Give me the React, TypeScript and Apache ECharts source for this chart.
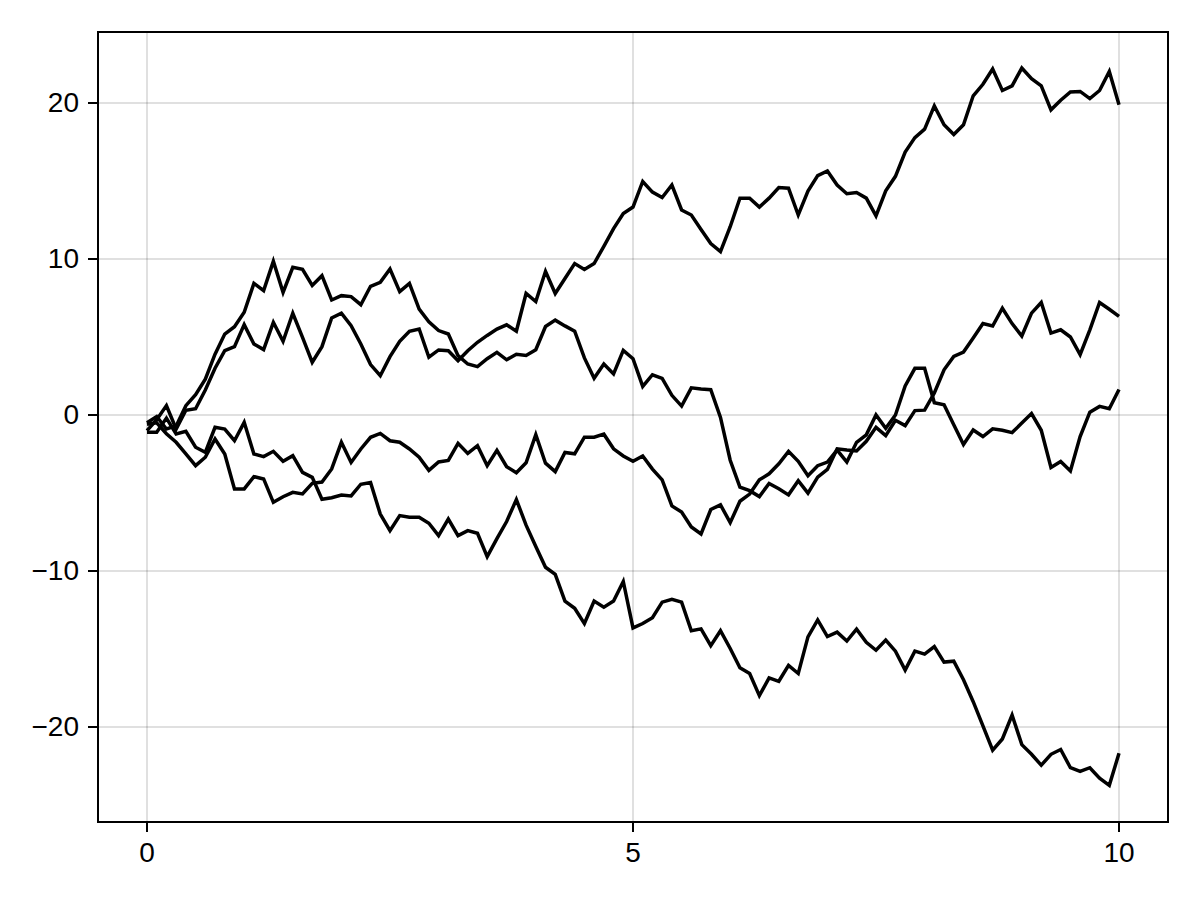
import React, { useEffect, useRef } from "react";
import * as echarts from "echarts";

// Sampling positions: 101 samples from 0 to 10 (step 0.1)
const sampleCount = 101;
const xs: number[] = Array.from({ length: sampleCount }, (_, i) => i / 10);

const xTicks = [0, 5, 10];
const yTicks = [-20, -10, 0, 10, 20];

const walkA = [
  -0.5, -0.1, -0.9, -0.7, 0.6, 1.3, 2.3, 3.9, 5.19, 5.66,
  6.58, 8.44, 7.97, 9.85, 7.86, 9.47, 9.34, 8.3, 8.93, 7.37,
  7.65, 7.59, 7.07, 8.25, 8.5, 9.36, 7.91, 8.44, 6.79, 5.98,
  5.41, 5.19, 3.8, 3.27, 3.1, 3.61, 4.02, 3.54, 3.89, 3.82,
  4.18, 5.67, 6.08, 5.71, 5.37, 3.66, 2.35, 3.27, 2.63, 4.14,
  3.61, 1.83, 2.58, 2.35, 1.26, 0.57, 1.74, 1.67, 1.62, -0.16,
  -2.9, -4.62, -4.85, -5.23, -4.39, -4.73, -5.12, -4.21, -5.01, -3.98,
  -3.49, -2.17, -2.25, -2.31, -1.69, -0.79, -1.32, -0.34, -0.68, 0.28,
  0.31, 1.41, 2.9, 3.75, 4.03, 4.93, 5.86, 5.7, 6.84, 5.86,
  5.06, 6.53, 7.21, 5.25, 5.46, 5.0, 3.87, 5.46, 7.21, 6.78,
  6.32,
];

const walkB = [
  -1.0, -0.3, 0.6, -0.9, 0.3, 0.4, 1.6, 3.0, 4.12, 4.38,
  5.79, 4.55, 4.19, 5.94, 4.72, 6.52, 4.98, 3.38, 4.38, 6.22,
  6.52, 5.73, 4.55, 3.23, 2.52, 3.74, 4.72, 5.36, 5.51, 3.7,
  4.17, 4.12, 3.48, 4.12, 4.66, 5.1, 5.51, 5.78, 5.37, 7.79,
  7.27, 9.21, 7.79, 8.75, 9.71, 9.33, 9.71, 10.81, 11.95, 12.91,
  13.33, 14.97, 14.29, 13.94, 14.74, 13.14, 12.82, 11.89, 10.99, 10.47,
  12.07, 13.9, 13.9, 13.33, 13.9, 14.58, 14.54, 12.82, 14.35, 15.34,
  15.64, 14.74, 14.18, 14.26, 13.9, 12.77, 14.37, 15.3, 16.85, 17.78,
  18.32, 19.81, 18.6, 17.98, 18.6, 20.46, 21.2, 22.18, 20.8, 21.1,
  22.24, 21.56, 21.1, 19.56, 20.18, 20.71, 20.74, 20.28, 20.8, 22.02,
  19.88,
];

const walkC = [
  -0.6, -0.5, -1.2, -1.75, -2.5, -3.25, -2.71, -1.54, -2.5, -4.74,
  -4.74, -3.95, -4.1, -5.6, -5.24, -4.96, -5.06, -4.38, -4.3, -3.46,
  -1.75, -3.04, -2.18, -1.43, -1.18, -1.65, -1.75, -2.18, -2.71, -3.55,
  -3.01, -2.91, -1.82, -2.46, -1.97, -3.25, -2.26, -3.31, -3.7, -3.06,
  -1.26, -3.09, -3.63, -2.4, -2.49, -1.42, -1.42, -1.23, -2.17, -2.63,
  -2.97, -2.63, -3.47, -4.16, -5.83, -6.22, -7.18, -7.63, -6.06, -5.76,
  -6.9, -5.53, -5.07, -4.16, -3.77, -3.13, -2.33, -2.97, -3.89, -3.25,
  -3.02, -2.25, -3.02, -1.75, -1.27, 0.0, -0.85, 0.0, 1.86, 2.99,
  2.99, 0.79, 0.65, -0.62, -1.89, -0.96, -1.38, -0.89, -0.98, -1.13,
  -0.52, 0.09, -0.98, -3.37, -2.98, -3.59, -1.38, 0.18, 0.55, 0.4,
  1.63,
];

const walkD = [
  -1.1, -1.1, -0.2, -1.22, -1.05, -2.07, -2.39, -0.79, -0.9, -1.65,
  -0.47, -2.5, -2.67, -2.33, -2.97, -2.61, -3.68, -4.0, -5.4, -5.3,
  -5.13, -5.19, -4.44, -4.33, -6.35, -7.41, -6.45, -6.56, -6.56, -6.94,
  -7.73, -6.67, -7.73, -7.41, -7.58, -9.08, -7.93, -6.83, -5.42, -7.06,
  -8.43, -9.76, -10.22, -11.93, -12.39, -13.37, -11.93, -12.32, -11.93, -10.67,
  -13.65, -13.37, -13.0, -12.0, -11.82, -12.0, -13.83, -13.71, -14.79, -13.83,
  -14.97, -16.21, -16.57, -17.99, -16.85, -17.07, -16.05, -16.57, -14.22, -13.14,
  -14.2, -13.92, -14.49, -13.73, -14.57, -15.08, -14.43, -15.14, -16.35, -15.14,
  -15.33, -14.85, -15.84, -15.78, -16.97, -18.38, -19.93, -21.48, -20.77, -19.23,
  -21.13, -21.75, -22.45, -21.75, -21.44, -22.61, -22.85, -22.61, -23.28, -23.74,
  -21.69,
];

const walks = [walkA, walkB, walkC, walkD];

const fmt = (v: number) => (v < 0 ? "\u2212" + Math.abs(v) : String(v));

const X_MIN = -0.504;
const X_MAX = 10.504;
const Y_MIN = -26.09;
const Y_MAX = 24.55;

export default function App() {
  const ref = useRef<HTMLDivElement>(null);

  useEffect(() => {
    if (!ref.current) return;
    const chart = echarts.init(ref.current, undefined, { renderer: "svg" });
    const gridColor = "rgba(0,0,0,0.12)";
    const font = "'Liberation Sans', Arial, Helvetica, sans-serif";

    const markLineBase = {
      silent: true,
      symbol: ["none", "none"],
      animation: false,
      label: { show: false },
      emphasis: { disabled: true },
    };

    const gridSeries: any = {
      type: "line",
      data: [],
      silent: true,
      z: 1,
      markLine: {
        ...markLineBase,
        lineStyle: { color: gridColor, width: 2, type: "solid" },
        data: [
          ...xTicks.map((v) => ({ xAxis: v })),
          ...yTicks.map((v) => ({ yAxis: v })),
        ],
      },
    };

    // Tick marks: mark lines in thin strip grids just outside the frame,
    // sharing the main axes' ranges
    const xTickSeries: any = {
      type: "line",
      data: [],
      silent: true,
      xAxisIndex: 1,
      yAxisIndex: 1,
      markLine: {
        ...markLineBase,
        lineStyle: { color: "#000", width: 2, type: "solid" },
        data: xTicks.map((v) => ({ xAxis: v })),
      },
    };
    const yTickSeries: any = {
      type: "line",
      data: [],
      silent: true,
      xAxisIndex: 2,
      yAxisIndex: 2,
      markLine: {
        ...markLineBase,
        lineStyle: { color: "#000", width: 2, type: "solid" },
        data: yTicks.map((v) => ({ yAxis: v })),
      },
    };

    const lineSeries = walks.map((w) => ({
      type: "line",
      data: w.map((y, i) => [xs[i], y]),
      showSymbol: false,
      symbol: "none",
      silent: true,
      z: 3,
      lineStyle: { color: "#000", width: 3.5, join: "miter", cap: "butt" },
    }));

    const hiddenAxis = (min: number, max: number, gridIndex: number) => ({
      type: "value",
      gridIndex,
      min,
      max,
      show: false,
      axisLine: { show: false, onZero: false },
      splitLine: { show: false },
      axisTick: { show: false },
      axisLabel: { show: false },
    });

    chart.setOption({
      animation: false,
      backgroundColor: "#fff",
      grid: [
        {
          left: 98,
          top: 32,
          width: 1070,
          height: 790,
          show: true,
          borderColor: "#000",
          borderWidth: 2,
          backgroundColor: "transparent",
        },
        { left: 98, top: 823, width: 1070, height: 9, show: false },
        { left: 88, top: 32, width: 9, height: 790, show: false },
      ],
      xAxis: [
        {
          type: "value",
          gridIndex: 0,
          min: X_MIN,
          max: X_MAX,
          splitLine: { show: false },
          axisLine: { show: false, onZero: false },
          axisTick: { show: false },
          axisLabel: {
            show: true,
            customValues: xTicks,
            formatter: (v: number) => fmt(v),
            color: "#000",
            fontSize: 28,
            fontFamily: font,
            margin: 16,
          },
        },
        hiddenAxis(X_MIN, X_MAX, 1),
        hiddenAxis(0, 1, 2),
      ],
      yAxis: [
        {
          type: "value",
          gridIndex: 0,
          min: Y_MIN,
          max: Y_MAX,
          splitLine: { show: false },
          axisLine: { show: false, onZero: false },
          axisTick: { show: false },
          axisLabel: {
            show: true,
            customValues: yTicks,
            formatter: (v: number) => fmt(v),
            color: "#000",
            fontSize: 28,
            fontFamily: font,
            margin: 19,
          },
        },
        hiddenAxis(0, 1, 1),
        hiddenAxis(Y_MIN, Y_MAX, 2),
      ],
      series: [gridSeries, ...lineSeries, xTickSeries, yTickSeries],
    });

    return () => chart.dispose();
  }, []);

  return (
    <div
      ref={ref}
      style={{ position: "fixed", left: 0, top: 0, width: 1200, height: 900 }}
    />
  );
}
